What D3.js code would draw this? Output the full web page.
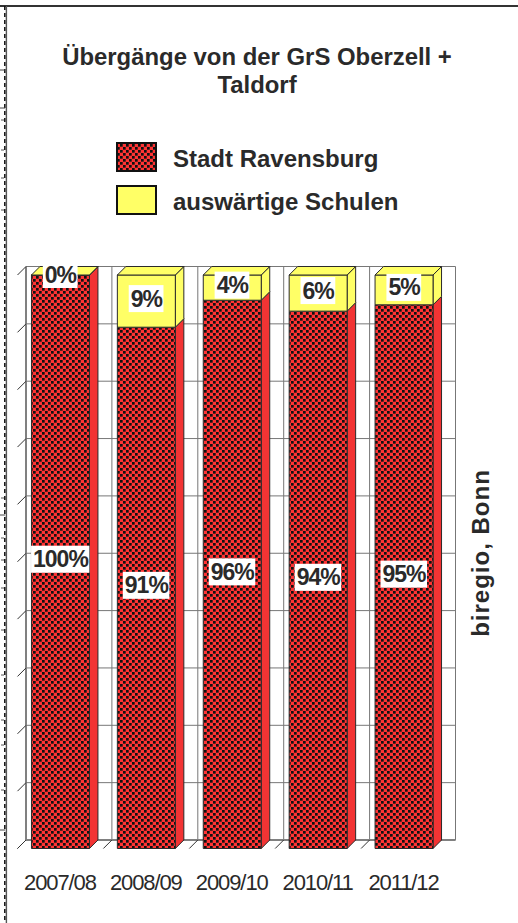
<!DOCTYPE html>
<html><head><meta charset="utf-8">
<script src="https://cdn.jsdelivr.net/npm/d3@7"></script>
<style>html,body{margin:0;padding:0;background:#fff}svg{display:block}text{font-family:"Liberation Sans",Arial,sans-serif;fill:#2a2a2a}</style>
</head><body><div id="c"></div>
<script>
const categories=["2007/08","2008/09","2009/10","2010/11","2011/12"];
const stadt=[100,90.9,95.6,93.7,94.8];
const auswaertig=[0,9.1,4.4,6.3,5.2];
const titleLines=["Übergänge von der GrS Oberzell +","Taldorf"];
const legendLabels=["Stadt Ravensburg","auswärtige Schulen"];
const sideNote="biregio, Bonn";
const yTicks=[0,10,20,30,40,50,60,70,80,90,100];
const strayLong=[70,108,515,830];
const strayShort=[120,150,178,210,498,538,560,588,630,675,720,745,790];

const W=518,H=923,dx=8.5,dy=-8.5;
const svg=d3.select("#c").append("svg").attr("width",W).attr("height",H);
const defs=svg.append("defs");
const p=defs.append("pattern").attr("id","chk").attr("patternUnits","userSpaceOnUse").attr("width",6).attr("height",6);
p.append("rect").attr("width",6).attr("height",6).attr("fill","#ff3333");
p.append("rect").attr("width",2.7).attr("height",2.7).attr("fill","#111");
p.append("rect").attr("x",3).attr("y",3).attr("width",2.7).attr("height",2.7).attr("fill","#111");

const x=d3.scaleBand().domain(categories).range([17.5,447]).paddingInner(0.325).paddingOuter(0.1625);
const y=d3.scaleLinear().domain([0,100]).range([848.5,275]);
const RED="#f23434",YEL="#ffff66",EDGE="#2a2a2a",GRID="#777";
const pct=d3.format(".0f");

// frame
svg.append("line").attr("x1",0).attr("x2",W).attr("y1",6).attr("y2",6).attr("stroke","#333").attr("stroke-width",2);
svg.append("line").attr("x1",6.4).attr("x2",6.4).attr("y1",6).attr("y2",H).attr("stroke","#555").attr("stroke-width",1.4);
svg.append("line").attr("x1",4.8).attr("x2",4.8).attr("y1",6).attr("y2",H).attr("stroke","#111").attr("stroke-width",1.5).attr("stroke-dasharray","4 3");
svg.selectAll(".sl").data(strayLong).join("line").attr("x1",0).attr("x2",5).attr("y1",d=>d).attr("y2",d=>d).attr("stroke","#444");
svg.selectAll(".ss").data(strayShort).join("line").attr("x1",1).attr("x2",4).attr("y1",d=>d).attr("y2",d=>d).attr("stroke","#555");

// back wall
const step=x.step(),x0=17.5,bounds=d3.range(categories.length+1).map(i=>x0+i*step);
svg.selectAll(".grid").data(yTicks).join("line").attr("x1",x0+dx).attr("x2",bounds[5]+dx)
 .attr("y1",d=>y(d)+dy).attr("y2",d=>y(d)+dy).attr("stroke",GRID).attr("stroke-width",1);
svg.selectAll(".vg").data(bounds.slice(1)).join("line").attr("x1",d=>d+dx).attr("x2",d=>d+dx)
 .attr("y1",y(100)+dy).attr("y2",y(0)+dy).attr("stroke",GRID).attr("stroke-width",1);
svg.append("line").attr("x1",x0+dx).attr("x2",x0+dx).attr("y1",y(100)+dy).attr("y2",y(0)+dy).attr("stroke","#808080").attr("stroke-width",2);
svg.append("line").attr("x1",x0+dx).attr("x2",bounds[5]+dx).attr("y1",y(0)+dy).attr("y2",y(0)+dy).attr("stroke","#808080").attr("stroke-width",2);
svg.selectAll(".yt").data(yTicks).join("line").attr("x1",x0).attr("x2",x0+dx).attr("y1",d=>y(d)).attr("y2",d=>y(d)+dy).attr("stroke","#333");
svg.selectAll(".xt").data(bounds.slice(0,5)).join("line").attr("x1",d=>d).attr("x2",d=>d+dx).attr("y1",y(0)).attr("y2",y(0)+dy).attr("stroke","#333");

// bars
const poly=pts=>pts.map(q=>q.join(",")).join(" ");
categories.forEach((c,i)=>{
  const g=svg.append("g"),l=x(c),r=l+x.bandwidth(),b=y(0),m=y(stadt[i]),t=y(100);
  const st={stroke:EDGE,"stroke-width":1,"stroke-linejoin":"round"};
  const add=(pts,fill)=>{const e=g.append("polygon").attr("points",poly(pts)).attr("fill",fill);Object.entries(st).forEach(([k,v])=>e.attr(k,v));};
  add([[r,b],[r+dx,b+dy],[r+dx,m+dy],[r,m]],RED);
  add([[r,m],[r+dx,m+dy],[r+dx,t+dy],[r,t]],YEL);
  add([[l,b],[r,b],[r,m],[l,m]],"url(#chk)");
  add([[l,m],[r,m],[r,t],[l,t]],YEL);
  add([[l,t],[r,t],[r+dx,t+dy],[l+dx,t+dy]],YEL);
});

// value labels
function valueLabel(cx,cy,s){
  const t=svg.append("text").attr("x",cx).attr("y",cy+8).attr("text-anchor","middle")
    .attr("font-size",23).attr("font-weight","bold").attr("letter-spacing",-1).text(s);
  const w=t.node().getComputedTextLength();
  svg.append("rect").attr("x",cx-w/2-2).attr("y",cy-13.5).attr("width",w+3.5).attr("height",27).attr("fill","#fff");
  t.raise();
}
categories.forEach((c,i)=>{
  const cx=x(c)+x.bandwidth()/2;
  valueLabel(cx,(y(0)+y(stadt[i]))/2-2.5,pct(stadt[i])+"%");
  valueLabel(cx,Math.max((y(stadt[i])+y(100))/2-2.5,274.5),pct(auswaertig[i])+"%");
});

// axis labels
svg.selectAll(".cat").data(categories).join("text").attr("x",d=>x(d)+x.bandwidth()/2-0.5).attr("y",890)
 .attr("text-anchor","middle").attr("font-size",22).attr("letter-spacing",-1.1).text(d=>d);

// title
svg.selectAll(".ttl").data(titleLines).join("text").attr("x",257).attr("y",(d,i)=>65+i*28)
 .attr("text-anchor","middle").attr("font-size",23.9).attr("font-weight","bold").text(d=>d);

// legend
const swFill=["url(#chk)",YEL],legY=[142,185];
legendLabels.forEach((s,i)=>{
  svg.append("rect").attr("x",117).attr("y",legY[i]+1).attr("width",39).attr("height",28).attr("fill",swFill[i]).attr("stroke","#111").attr("stroke-width",2);
  svg.append("text").attr("x",173).attr("y",legY[i]+24.5).attr("font-size",24).attr("font-weight","bold").text(s);
});

// side note
svg.append("text").attr("transform","translate(489,553) rotate(-90)").attr("text-anchor","middle").attr("font-size",24).attr("letter-spacing",1).attr("font-weight","bold").text(sideNote);
</script></body></html>
